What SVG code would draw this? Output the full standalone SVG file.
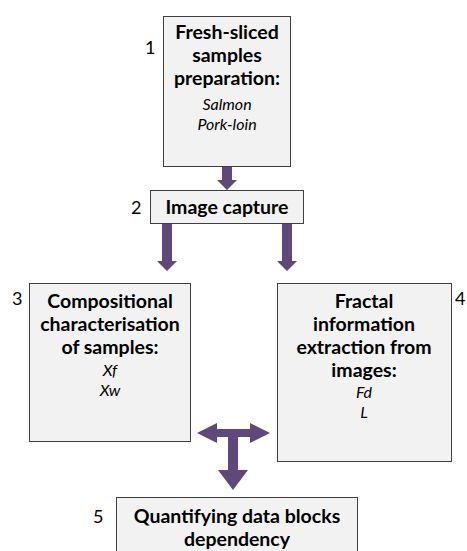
<svg xmlns="http://www.w3.org/2000/svg" width="467" height="551" viewBox="0 0 467 551">
<style>
.box{fill:#f2f2f2;stroke:#3f3f3f;stroke-width:1}
.t{font-family:Lato,"Open Sans",sans-serif;font-size:19.5px;font-weight:bold;fill:#000;text-anchor:middle}
.i{font-family:Lato,"Open Sans",sans-serif;font-size:16px;font-style:italic;fill:#000;text-anchor:middle}
.n{font-family:Lato,"Open Sans",sans-serif;font-size:18px;fill:#000}
.arr{fill:#5f497a}
</style>
<rect width="467" height="551" fill="#fff"/>
<g id="connectors">
<polygon class="arr" points="222,167 232,167 232,180 237,180 227,190 217,180 222,180"/>
<polygon class="arr" points="162,224 172,224 172,261 177,261 167,271 157,261 162,261"/>
<polygon class="arr" points="282,224 292,224 292,261 297,261 287,271 277,261 282,261"/>
<polygon class="arr" points="197,433 217,423 217,429 250,429 250,423 270,433 250,443 250,437 238,437 238,470 248,470 233,490 218,470 228,470 228,437 217,437 217,443"/>
</g>
<g id="n1">
<rect class="box" x="163.5" y="16.5" width="127" height="150"/>
<text class="n" x="145" y="54">1</text>
<text class="t" x="227" y="39">Fresh-sliced</text>
<text class="t" x="227" y="62">samples</text>
<text class="t" x="227" y="85">preparation:</text>
<text class="i" x="227" y="110">Salmon</text>
<text class="i" x="227" y="130">Pork-loin</text>
</g>
<g id="n2">
<rect class="box" x="150.5" y="190.5" width="153" height="33"/>
<text class="n" x="131" y="214">2</text>
<text class="t" x="227" y="214">Image capture</text>
</g>
<g id="n3">
<rect class="box" x="29.5" y="283.5" width="161" height="158"/>
<text class="n" x="12" y="305">3</text>
<text class="t" x="110" y="308">Compositional</text>
<text class="t" x="110" y="331">characterisation</text>
<text class="t" x="110" y="354">of samples:</text>
<text class="i" x="110" y="376">Xf</text>
<text class="i" x="110" y="396">Xw</text>
</g>
<g id="n4">
<rect class="box" x="277.5" y="283.5" width="174" height="178"/>
<text class="n" x="455" y="305">4</text>
<text class="t" x="364" y="308">Fractal</text>
<text class="t" x="364" y="331">information</text>
<text class="t" x="364" y="354">extraction from</text>
<text class="t" x="364" y="377">images:</text>
<text class="i" x="364" y="398">Fd</text>
<text class="i" x="364" y="418">L</text>
</g>
<g id="n5">
<rect class="box" x="116.5" y="497.5" width="241" height="60"/>
<text class="n" x="93" y="523">5</text>
<text class="t" x="237" y="523">Quantifying data blocks</text>
<text class="t" x="237" y="546">dependency</text>
</g>
</svg>
